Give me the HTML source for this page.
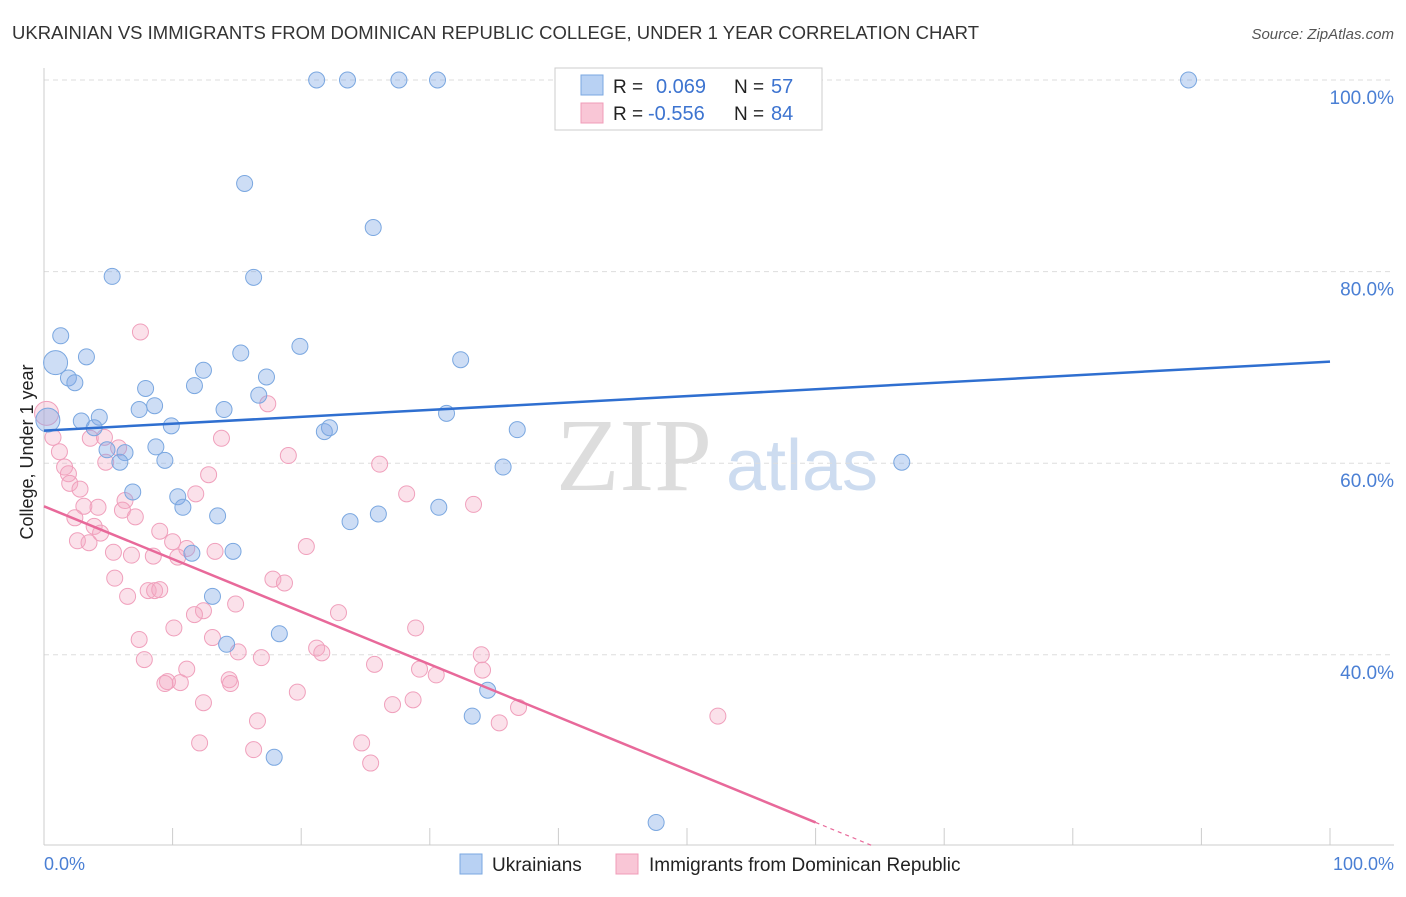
<!DOCTYPE html>
<html><head><meta charset="utf-8"><style>
body{margin:0;background:#fff;font-family:"Liberation Sans",sans-serif}
</style></head><body>
<svg id="c" width="1406" height="892" xmlns="http://www.w3.org/2000/svg" style="font-family:'Liberation Sans',sans-serif">
<text x="12" y="39" font-size="18" fill="#333" textLength="967" lengthAdjust="spacingAndGlyphs">UKRAINIAN VS IMMIGRANTS FROM DOMINICAN REPUBLIC COLLEGE, UNDER 1 YEAR CORRELATION CHART</text>
<text x="1394" y="39" font-size="15" fill="#555" text-anchor="end" font-style="italic">Source: ZipAtlas.com</text>
<text x="634" y="490" font-size="104" fill="#ddd" font-family="Liberation Serif" text-anchor="middle">ZIP</text>
<text x="802" y="490" font-size="72" fill="#cddcf0" text-anchor="middle">atlas</text>
<g id="grid"></g><g id="pts"></g><g id="lines"></g>
<text x="36" y="455" font-size="18" fill="#222" text-anchor="middle" transform="rotate(-90 33 455)">College, Under 1 year</text>
<text x="44" y="870" font-size="18" fill="#4a7fd4">0.0%</text>
<text x="1394" y="870" font-size="18" fill="#4a7fd4" text-anchor="end">100.0%</text>
<g>
<rect x="555" y="68" width="267" height="62" fill="#fff" stroke="#ccc"/>
<rect x="581" y="75" width="22" height="20" fill="#b8d1f3" stroke="#7aa7e0"/>
<rect x="581" y="103" width="22" height="20" fill="#f9c6d6" stroke="#f09cb8"/>
<text x="613" y="93" font-size="19" fill="#222">R =</text><text x="656" y="93" font-size="20" fill="#3d74d0">0.069</text>
<text x="734" y="93" font-size="19" fill="#222">N =</text><text x="771" y="93" font-size="20" fill="#3d74d0">57</text>
<text x="613" y="120" font-size="19" fill="#222">R =</text><text x="648" y="120" font-size="20" fill="#3d74d0">-0.556</text>
<text x="734" y="120" font-size="19" fill="#222">N =</text><text x="771" y="120" font-size="20" fill="#3d74d0">84</text>
</g>
<g>
<rect x="460" y="854" width="22" height="20" fill="#b8d1f3" stroke="#7aa7e0"/>
<text x="492" y="871" font-size="19" fill="#222">Ukrainians</text>
<rect x="616" y="854" width="22" height="20" fill="#f9c6d6" stroke="#f09cb8"/>
<text x="649" y="871" font-size="19" fill="#222">Immigrants from Dominican Republic</text>
</g>
</svg>
<script>
const yTicks=[100,80,60,40];
const yTickLabels=["100.0%","80.0%","60.0%","40.0%"];
const xTicks=[0,10,20,30,40,50,60,70,80,90,100];
const blueX=[21.2,23.6,27.6,30.6,89,15.6,25.6,5.3,16.3,1.3,0.9,3.3,15.3,19.9,32.4,1.9,2.4,12.4,17.3,7.9,11.7,16.7,7.4,8.6,14,31.3,4.3,2.9,0.3,9.9,3.9,21.8,22.2,36.8,4.9,6.3,8.7,5.9,9.4,35.7,66.7,6.9,10.4,10.8,30.7,13.5,26,23.8,11.5,14.7,13.1,18.3,14.2,34.5,33.3,17.9,47.6];
const blueY=[100,100,100,100,100,89.2,84.6,79.5,79.4,73.3,70.5,71.1,71.5,72.2,70.8,68.9,68.4,69.7,69,67.8,68.1,67.1,65.6,66,65.6,65.2,64.8,64.4,64.5,63.9,63.7,63.3,63.7,63.5,61.4,61.1,61.7,60.1,60.3,59.6,60.1,57,56.5,55.4,55.4,54.5,54.7,53.9,50.6,50.8,46.1,42.2,41.1,36.3,33.6,29.3,22.5];
const pinkX=[7.5,17.4,0.2,0.7,3.6,4.7,13.8,1.2,5.8,4.8,19,26.1,1.6,1.9,12.8,2,2.8,11.8,28.2,6.3,33.4,3.1,4.2,6.1,2.4,7.1,3.9,4.4,9,2.6,3.5,10,20.4,11.1,5.4,6.8,8.5,10.4,13.3,5.5,17.8,18.7,6.5,8.1,8.6,9,14.9,12.4,11.7,22.9,10.1,28.9,7.4,13.1,21.2,21.6,15.1,34,7.8,16.9,25.7,11.1,29.2,34.1,30.5,10.6,9.6,9.4,14.4,14.5,19.7,12.4,27.1,28.7,36.9,52.4,16.6,35.4,12.1,24.7,16.3,25.4];
const pinkY=[73.7,66.2,65.2,62.7,62.6,62.7,62.6,61.2,61.6,60.1,60.8,59.9,59.6,58.9,58.8,57.9,57.3,56.8,56.8,56.1,55.7,55.5,55.4,55.1,54.3,54.4,53.4,52.7,52.9,51.9,51.7,51.8,51.3,51.1,50.7,50.4,50.3,50.2,50.8,48,47.9,47.5,46.1,46.7,46.7,46.8,45.3,44.6,44.2,44.4,42.8,42.8,41.6,41.8,40.7,40.2,40.3,40,39.5,39.7,39,38.5,38.5,38.4,37.9,37.1,37.2,37,37.4,37,36.1,35,34.8,35.3,34.5,33.6,33.1,32.9,30.8,30.8,30.1,28.7];
const blueTrend=[63.4,70.6];
const pinkTrend=[55.5,0.5];
const NS="http://www.w3.org/2000/svg";
const sx=v=>44+v*12.86, sy=v=>80+(100-v)*9.58;
function mk(t,a,p){const e=document.createElementNS(NS,t);for(const k in a)e.setAttribute(k,a[k]);p.appendChild(e);return e;}
const g=document.getElementById('grid');
yTicks.forEach((v,i)=>{const l=mk('line',{x1:44,x2:1394,y1:sy(v),y2:sy(v),stroke:'#ddd','stroke-dasharray':'5,4'},g);


const t=mk('text',{x:1394,y:sy(v)+24,'font-size':19,fill:'#4a7fd4','text-anchor':'end'},g);t.textContent=yTickLabels[i];

});
const ax=mk('line',{x1:44,x2:1394,y1:845,y2:845,stroke:'#ccc'},g);


const ay=mk('line',{x1:44,x2:44,y1:68,y2:845,stroke:'#ccc'},g);


xTicks.forEach(v=>{const t=mk('line',{x1:sx(v),x2:sx(v),y1:828,y2:845,stroke:'#ccc'},g);

});
const P=document.getElementById('pts');
pinkX.forEach((x,i)=>{const c=mk('circle',{cx:sx(x),cy:sy(pinkY[i]),r:i==2?12:8,fill:'rgba(244,170,196,0.35)',stroke:'#f0a0bc','stroke-width':1},P);

});
blueX.forEach((x,i)=>{const c=mk('circle',{cx:sx(x),cy:sy(blueY[i]),r:(i==10||i==28)?12:8,fill:'rgba(130,170,230,0.4)',stroke:'#7aa7e0','stroke-width':1},P);

});
const L=document.getElementById('lines');
const bl=mk('line',{x1:sx(0),y1:sy(blueTrend[0]),x2:sx(100),y2:sy(blueTrend[1]),stroke:'#2f6fd0','stroke-width':2.5},L);


const pv=x=>pinkTrend[0]+(pinkTrend[1]-pinkTrend[0])*x/100;
const pl=mk('line',{x1:sx(0),y1:sy(pv(0)),x2:sx(60),y2:sy(pv(60)),stroke:'#e8699a','stroke-width':2.5},L);


const xe=(pinkTrend[0]-20.1)/(pinkTrend[0]-pinkTrend[1])*100;
const pd=mk('line',{x1:sx(60),y1:sy(pv(60)),x2:sx(xe),y2:sy(pv(xe)),stroke:'#e8699a','stroke-width':1.2,'stroke-dasharray':'4,4'},L);


</script>
</body></html>
